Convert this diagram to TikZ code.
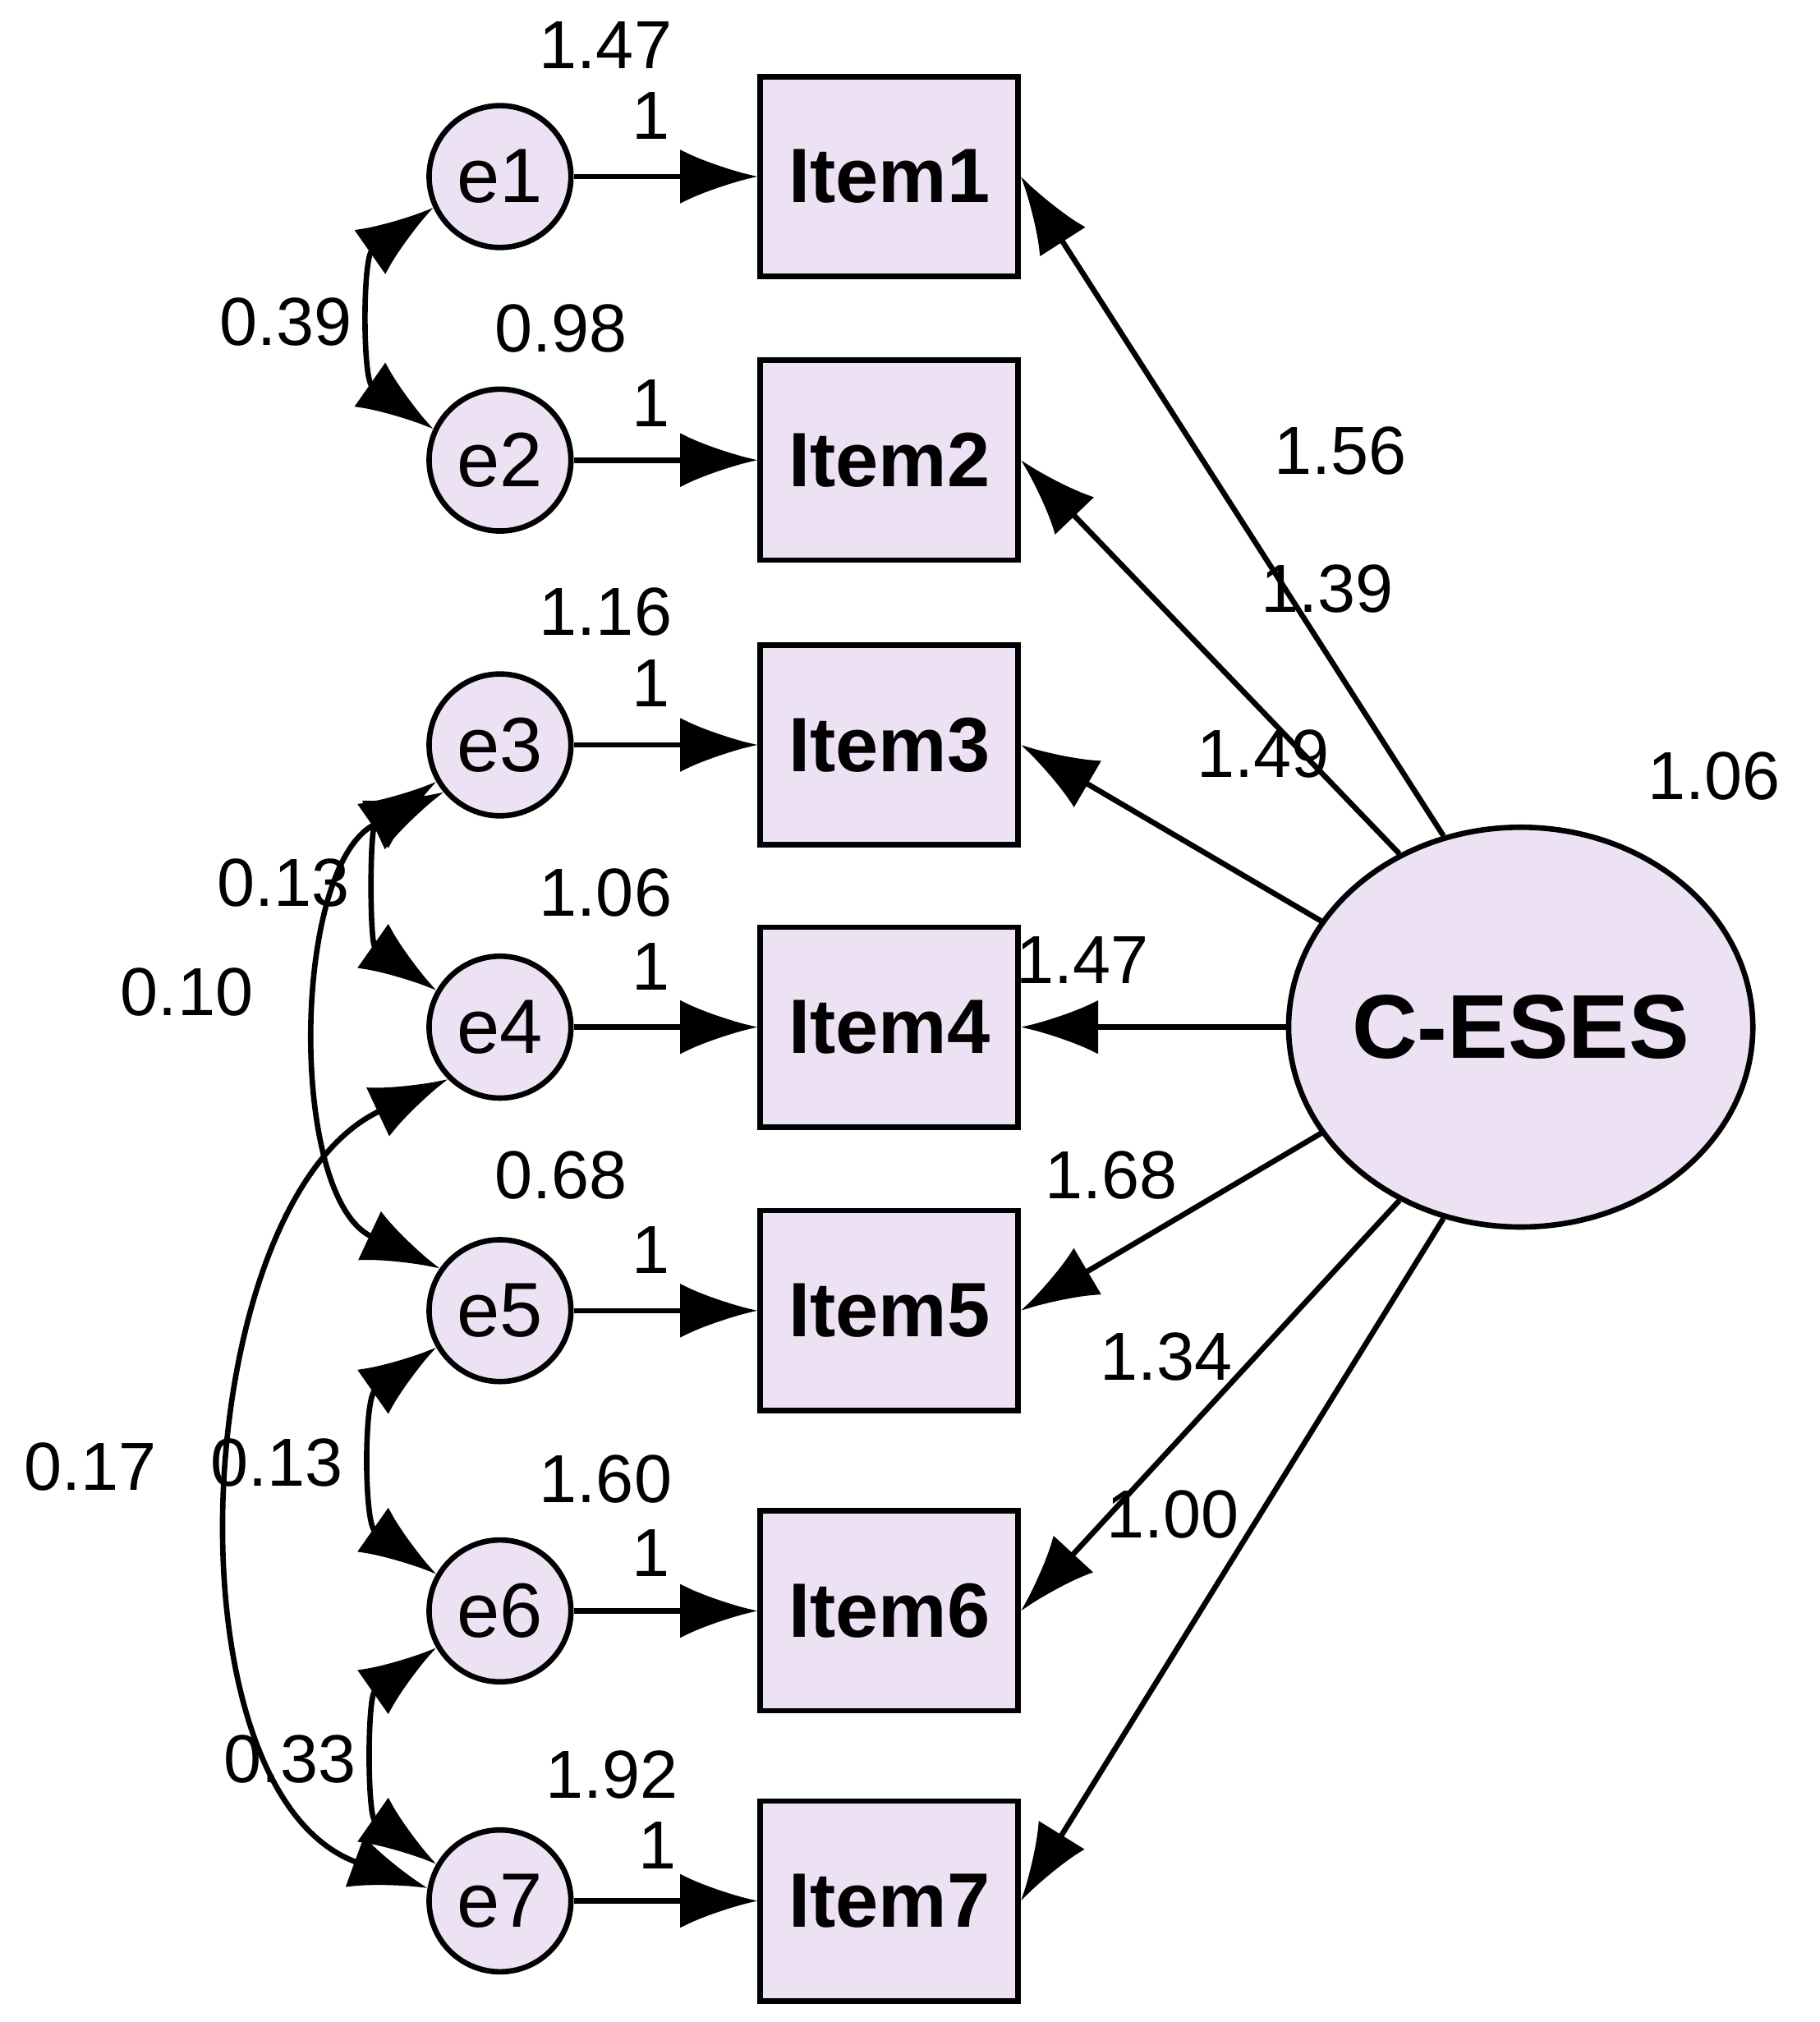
\documentclass[tikz,border=0pt]{standalone}
\usepackage{fontspec}
\setmainfont{Liberation Sans}
\usetikzlibrary{arrows.meta,shapes.geometric}
\definecolor{lav}{RGB}{236,226,244}
\begin{document}
\begin{tikzpicture}[x=0.01cm,y=-0.01cm,
  err/.style={circle,draw,line width=1.2pt,fill=lav,minimum size=1.1cm,inner sep=0pt,font=\fontsize{17}{17}\selectfont},
  item/.style={rectangle,draw,line width=1.2pt,fill=lav,minimum width=2cm,minimum height=1.55cm,font=\bfseries\fontsize{17}{17}\selectfont},
  arr/.style={line width=1.2pt,-{Latex[length=6mm,width=4.2mm]}},
  cov/.style={line width=1.2pt,{Latex[length=6mm,width=4.2mm]}-{Latex[length=6mm,width=4.2mm]}},
  lab/.style={font=\fontsize{15}{15}\selectfont,inner sep=1pt}]
\useasboundingbox (0,0) rectangle (1412,1569);
\foreach \i/\y in {1/137,2/357,3/578,4/797,5/1017,6/1250,7/1475}{
  \node[err] (e\i) at (388,\y) {e\i};
  \node[item] (I\i) at (690,\y) {Item\i};
  \draw[arr] (e\i) -- (I\i);
}
\node[ellipse,draw,line width=1.2pt,fill=lav,minimum width=3.6cm,minimum height=3.1cm,inner sep=0pt] (C) at (1180,797) {};
\node[font=\bfseries\fontsize{20}{20}\selectfont] (Ct) at (C.center) {C-ESES};
\draw[arr] (C.112) -- (I1.east);
\draw[arr] (C.125) -- (I2.east);
\draw[arr] (C.152) -- (I3.east);
\draw[arr] (C.west) -- (I4.east);
\draw[arr] (C.208) -- (I5.east);
\draw[arr] (C.235) -- (I6.east);
\draw[arr] (C.248) -- (I7.east);
\foreach \t/\x/\y in {1.47/470/35,1/505/90,0.98/435/255,1/505/313,1.16/470/475,1/505/530,1.06/470/693,1/505/750,0.68/435/912,1/505/970,1.60/470/1148,1/505/1205,1.92/475/1377,1/510/1432,
 1.56/1040/350,1.39/1030/457,1.49/980/585,1.47/840/745,1.68/862/912,1.34/905/1053,1.00/910/1175,1.06/1330/602,
 0.39/222/250,0.13/220/685,0.10/145/770,0.17/70/1138,0.13/215/1135,0.33/225/1365}
 \node[lab] at (\x,\y) {\t};
\draw[cov] (e1.205) to[out=215,in=145] (e2.155);
\draw[cov] (e3.210) to[out=215,in=145] (e4.150);
\draw[cov] (e3.220) to[out=205,in=155,looseness=0.9] (e5.145);
\draw[cov] (e5.210) to[out=215,in=145] (e6.150);
\draw[cov] (e6.210) to[out=215,in=145] (e7.150);
\draw[cov] (e4.225) to[out=205,in=160,looseness=0.9] (e7.170);
\end{tikzpicture}
\end{document}
